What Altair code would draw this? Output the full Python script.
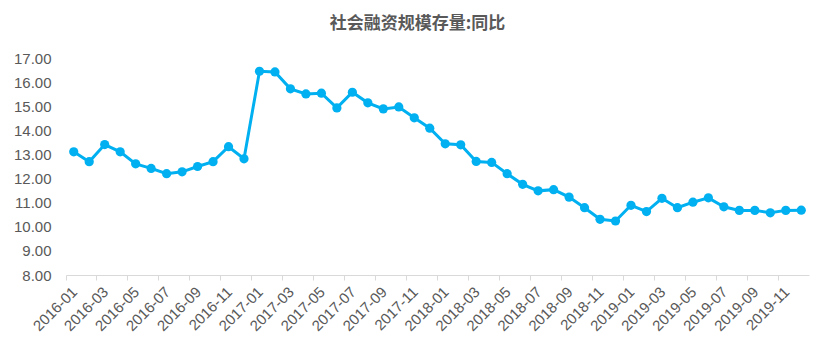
import altair as alt
import pandas as pd

months = [
    "2016-01", "2016-02", "2016-03", "2016-04", "2016-05", "2016-06",
    "2016-07", "2016-08", "2016-09", "2016-10", "2016-11", "2016-12",
    "2017-01", "2017-02", "2017-03", "2017-04", "2017-05", "2017-06",
    "2017-07", "2017-08", "2017-09", "2017-10", "2017-11", "2017-12",
    "2018-01", "2018-02", "2018-03", "2018-04", "2018-05", "2018-06",
    "2018-07", "2018-08", "2018-09", "2018-10", "2018-11", "2018-12",
    "2019-01", "2019-02", "2019-03", "2019-04", "2019-05", "2019-06",
    "2019-07", "2019-08", "2019-09", "2019-10", "2019-11", "2019-12",
]

yoy = [
    13.11, 12.70, 13.41, 13.11, 12.61, 12.42, 12.20, 12.28, 12.50, 12.70, 13.32, 12.82,
    16.45, 16.42, 15.72, 15.51, 15.54, 14.93, 15.58, 15.14, 14.89, 14.97, 14.52, 14.09,
    13.44, 13.40, 12.71, 12.67, 12.20, 11.76, 11.49, 11.54, 11.23, 10.79, 10.31, 10.24,
    10.89, 10.63, 11.18, 10.79, 11.02, 11.20, 10.83, 10.68, 10.68, 10.58, 10.68, 10.69,
]

tick_labels = months[::2]
y_ticks = [8, 9, 10, 11, 12, 13, 14, 15, 16, 17]

df = pd.DataFrame({"month": months, "value": yoy})

color = "#00B0F0"
grey = "#595959"

x_enc = alt.X(
    "month:O",
    sort=months,
    bandPosition=0.5,
    scale=alt.Scale(type="band", paddingInner=0, paddingOuter=0),
    axis=alt.Axis(
        title=None,
        values=tick_labels,
        bandPosition=0,
        labelOffset=1,
        labelAngle=-45,
        labelAlign="right",
        labelBaseline="middle",
        labelPadding=9,
        labelFont="Liberation Sans",
        labelFontSize=15,
        labelColor=grey,
        domainColor="#D9D9D9",
        tickColor="#D9D9D9",
        tickSize=5,
        grid=False,
    ),
)
y_enc = alt.Y(
    "value:Q",
    scale=alt.Scale(domain=[8, 17], nice=False, zero=False),
    axis=alt.Axis(
        title=None,
        values=y_ticks,
        format=".2f",
        domain=False,
        ticks=False,
        grid=False,
        labelPadding=15,
        labelFont="Liberation Sans",
        labelFontSize=15,
        labelColor=grey,
    ),
)

base = alt.Chart(df).encode(x=x_enc, y=y_enc)
line = base.mark_line(color=color, strokeWidth=3)
points = base.mark_point(filled=True, color=color, size=85, opacity=1)

chart = (
    alt.layer(line, points)
    .properties(
        width=743,
        height=217,
        background="white",
        autosize=alt.AutoSizeParams(type="none"),
        padding={"left": 66, "top": 58, "right": 23, "bottom": 77},
        title=alt.TitleParams(
            "社会融资规模存量:同比",
            font="Noto Sans CJK SC",
            fontSize=17,
            fontWeight="bold",
            color=grey,
            anchor="middle",
            dx=-20,
            offset=18,
        ),
    )
    .configure_view(stroke="transparent", strokeWidth=0)
)

chart.save("out.html", embed_options={"renderer": "svg", "actions": False})
